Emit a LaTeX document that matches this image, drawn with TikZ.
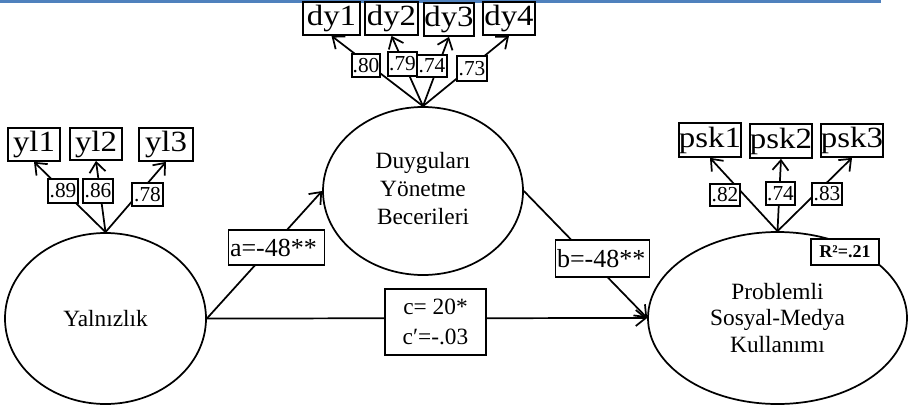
\documentclass[tikz,border=0pt]{standalone}
\usepackage{fontspec}
\setmainfont{Liberation Serif}
\newfontfamily\lblfont[FakeStretch=1.12]{Liberation Serif}
\usetikzlibrary{shapes.geometric,arrows.meta}
\definecolor{rulecol}{HTML}{4F81BD}
\begin{document}
\begin{tikzpicture}[x=0.75pt,y=-0.75pt,
  sz/.style 2 args={minimum width=#1*0.75pt, minimum height=#2*0.75pt},
  lat/.style={ellipse, draw, line width=1.3pt, inner sep=0pt, align=center, font=\fontsize{17.5}{21}\selectfont},
  ind/.style={draw, line width=1.3pt, inner sep=0pt, fill=white, font=\lblfont\fontsize{22}{24}\selectfont},
  ld/.style={draw, line width=1.1pt, inner sep=0pt, fill=white, font=\fontsize{16}{17}\selectfont},
  pathlbl/.style={draw, line width=1.2pt, inner xsep=1pt, inner ysep=0pt, fill=white, align=left, font=\fontsize{19.5}{22}\selectfont},
  conn/.style={line width=1.3pt, -{Straight Barb[length=7.5pt,width=12pt,line width=1.3pt]}}
]
\useasboundingbox (0,0) rectangle (909,410);
% header rule
\draw[rulecol, line width=2pt] (0,1.3) -- (881,1.3);

% latent variables
\node[lat, sz={200}{168}] (dg) at (423,191) {\raisebox{-5pt}{\begin{tabular}{@{}c@{}}Duyguları\\ Yönetme\\ Becerileri\end{tabular}}};
\node[lat, sz={201}{171}] (yal) at (105.5,318.5) {Yalnızlık};
\node[lat, sz={259}{172}, font=\fontsize{17.5}{20}\selectfont] (ps) at (777.5,318) {Problemli\\ Sosyal-Medya\\ Kullanımı};

% indicators
\node[ind, sz={57}{33}] (dy1) at (331.5,18.5) {dy1};
\node[ind, sz={53}{33}] (dy2) at (391.5,18.5) {dy2};
\node[ind, sz={50}{33}] (dy3) at (449,19.5) {dy3};
\node[ind, sz={52}{33}] (dy4) at (509,18.5) {dy4};

\node[ind, sz={52}{33}] (yl1) at (34,144.5) {yl1};
\node[ind, sz={52}{32}] (yl2) at (96,144) {yl2};
\node[ind, sz={54}{33}] (yl3) at (166,144.5) {yl3};

\node[ind, sz={54}{34}] (psk1) at (710,140) {psk1};
\node[ind, sz={52}{34}] (psk2) at (781,141) {psk2};
\node[ind, sz={52}{33}] (psk3) at (852,140.5) {psk3};

% loadings arrows
\foreach \t in {dy1,dy2,dy3,dy4} \draw[conn] (dg.north) -- (\t.south);
\foreach \t in {yl1,yl2,yl3} \draw[conn] (yal.north) -- (\t.south);
\foreach \t in {psk1,psk2,psk3} \draw[conn] (ps.north) -- (\t.south);

% structural paths
\draw[conn] (yal.east) -- (dg.west);
\draw[conn] (dg.east) -- (ps.west);
\draw[conn] (yal.east) -- (ps.west);

% loading labels
\node[ld, sz={28}{23}] (l80) at (366,65.5) {.80};
\node[ld, sz={29}{24}] (l79) at (402.5,64) {.79};
\node[ld, sz={30}{22}] (l74a) at (432,66) {.74};
\node[ld, sz={30}{25}] (l73) at (472,68.5) {.73};

\node[ld, sz={30}{24}] (l89) at (63,191) {.89};
\node[ld, sz={30}{24}] (l86) at (98,191) {.86};
\node[ld, sz={31}{23}] (l78) at (147.5,194.5) {.78};

\node[ld, sz={30}{22}] (l82) at (725,195) {.82};
\node[ld, sz={29}{23}] (l74b) at (780.5,193.5) {.74};
\node[ld, sz={30}{22}] (l83) at (827,194) {.83};

% path labels
\node[pathlbl, text width=93*0.75pt, minimum height=35*0.75pt] (pa) at (276.5,247.5) {a=-48**};
\node[pathlbl, text width=91*0.75pt, minimum height=37*0.75pt] (pb) at (602.5,258.5) {b=-48**};
\node[draw, line width=1.2pt, fill=white, inner sep=0pt, align=center, sz={101}{66}, font=\fontsize{17.5}{23}\selectfont] (pc) at (435.5,322) {c= 20*\\ c′=-.03};

% R squared
\node[draw, line width=1.2pt, fill=white, inner sep=0pt, sz={68}{26}, font=\bfseries\fontsize{13.5}{15}\selectfont] (r2) at (845,252) {R²=.21};
\end{tikzpicture}
\end{document}
